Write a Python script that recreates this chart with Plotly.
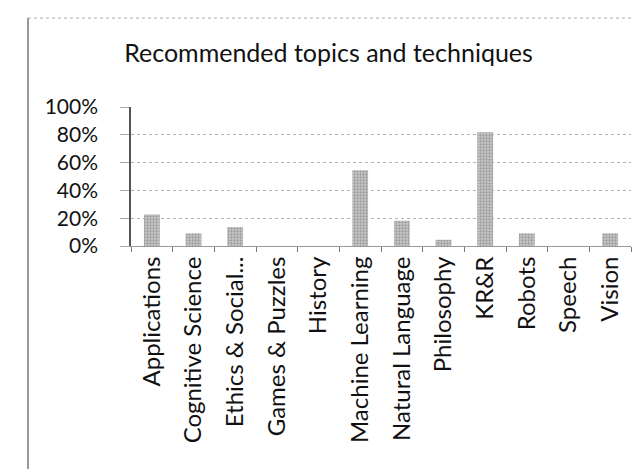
import plotly.graph_objects as go

categories = ["Applications", "Cognitive Science", "Ethics & Social...", "Games & Puzzles",
              "History", "Machine Learning", "Natural Language", "Philosophy", "KR&R",
              "Robots", "Speech", "Vision"]
share = [0.227, 0.091, 0.136, 0.0, 0.0, 0.545, 0.182, 0.045, 0.818, 0.091, 0.0, 0.091]
y_ticks = [0, 0.2, 0.4, 0.6, 0.8, 1.0]

W, H = 641, 469
ML, MR, MT, MB = 123, 18, 99, 231

fig = go.Figure(go.Bar(
    x=categories, y=share,
    marker=dict(color="#b4b4b4", line=dict(width=0),
                pattern=dict(shape=".", fgcolor="#6e6e6e", bgcolor="#c8c8c8",
                             size=3, solidity=0.45)),
))

pw = W - ML - MR
ph = H - MT - MB
def px_x(p):
    return (p - ML) / pw
def px_y(p):
    return (H - MB - p) / ph

fig.update_layout(
    width=W, height=H,
    margin=dict(l=ML, r=MR, t=MT, b=MB),
    paper_bgcolor="white", plot_bgcolor="white",
    bargap=0.62,
    showlegend=False,
    font=dict(family="Lato, Calibri, sans-serif", color="#111"),
    title=dict(text="Recommended topics and techniques", x=0.5, xref="container",
               xanchor="center", y=1 - 45 / H, yref="container", yanchor="middle",
               font=dict(size=25, color="#111")),
    xaxis=dict(showline=True, linecolor="#9a9a9a", linewidth=1,
               ticks="outside", ticklen=5, tickcolor="#777", tickson="boundaries",
               tickangle=-90, tickfont=dict(size=24, color="#111"),
               showgrid=False),
    yaxis=dict(range=[0, 1], tickvals=y_ticks, tickformat=".0%",
               showline=True, linecolor="#555", linewidth=1.5,
               ticks="outside", ticklen=9, tickcolor="#aaa",
               ticklabelstandoff=18,
               tickfont=dict(size=21, color="#111"),
               showgrid=True, gridcolor="#b4b4b4", griddash="dot", gridwidth=1,
               zeroline=False),
    shapes=[
        dict(type="line", xref="paper", yref="paper",
             x0=px_x(20), x1=px_x(20), y0=px_y(10), y1=px_y(469),
             line=dict(color="#777", width=1.5)),
        dict(type="line", xref="paper", yref="paper",
             x0=px_x(20), x1=px_x(641), y0=px_y(10), y1=px_y(10),
             line=dict(color="#aaa", width=1, dash="dot")),
    ],
)

fig.write_html("out.html")
